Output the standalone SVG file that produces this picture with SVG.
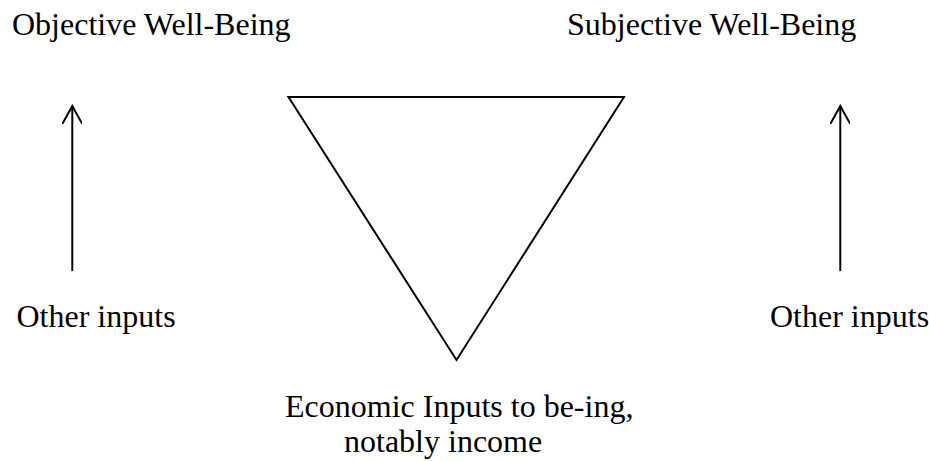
<svg xmlns="http://www.w3.org/2000/svg" width="929" height="461" viewBox="0 0 929 461">
<style>
text{font-family:"Liberation Serif","Times New Roman",serif;font-size:32px;fill:#000}
.ln{stroke:#000;stroke-width:2;fill:none}
</style>
<defs>
<marker id="ah" viewBox="0 0 20 20" refX="18" refY="10" markerWidth="20" markerHeight="20" markerUnits="userSpaceOnUse" orient="auto">
<path d="M0,0 L18,10 L0,20" fill="none" stroke="#000" stroke-width="2"/>
</marker>
</defs>
<rect width="929" height="461" fill="#fff"/>
<g id="objective"><text x="12" y="35">Objective Well-Being</text></g>
<g id="subjective"><text x="567" y="35">Subjective Well-Being</text></g>
<g id="other-left"><text x="16.5" y="327">Other inputs</text></g>
<g id="other-right"><text x="770" y="327">Other inputs</text></g>
<g id="triangle"><polygon class="ln" points="288.5,97 624,97 456.5,360"/></g>
<g id="economic"><text x="285" y="417">Economic Inputs to be-ing,</text><text x="344" y="452">notably income</text></g>
<g id="connectors">
<line class="ln" x1="72.3" y1="271" x2="72.3" y2="106" marker-end="url(#ah)"/>
<line class="ln" x1="840.3" y1="271" x2="840.3" y2="106" marker-end="url(#ah)"/>
</g>
</svg>
